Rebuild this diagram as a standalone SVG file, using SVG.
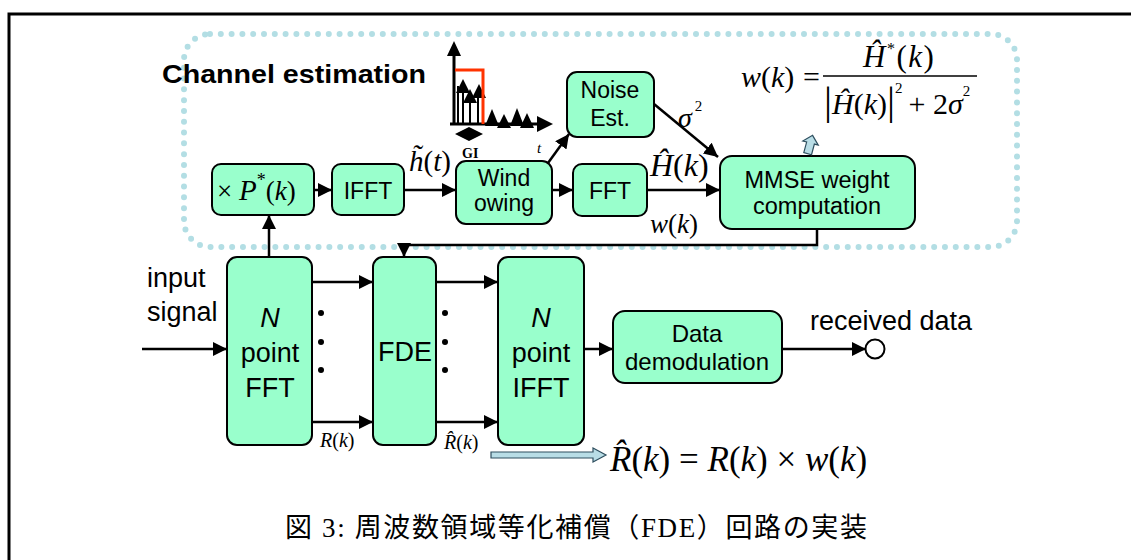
<svg xmlns="http://www.w3.org/2000/svg" width="1131" height="560" viewBox="0 0 1131 560">
<style>
.box{fill:#99FFCC;stroke:#000;stroke-width:2}
.t{font-family:"Liberation Sans",Arial,sans-serif;fill:#000;text-anchor:middle}
.m{font-family:"Liberation Serif","Times New Roman",serif;fill:#000}
.i{font-style:italic}
.c{stroke:#000;stroke-width:2.5;fill:none}
.blue{fill:#B8DDE6;stroke:#2F4F5F;stroke-width:1.2}
</style>
<defs>
<marker id="ah" markerUnits="userSpaceOnUse" markerWidth="16" markerHeight="14" refX="14" refY="7" orient="auto">
<path d="M0,0 L14,7 L0,14 Z" fill="#000"/>
</marker>
</defs>
<rect width="1131" height="560" fill="#fff"/>
<!-- frame -->
<path d="M9,560 V14 H1131" fill="none" stroke="#000" stroke-width="3"/>
<!-- channel estimation dotted region -->
<rect id="channel-estimation-region" x="184" y="34" width="833" height="213" rx="26" fill="none" stroke="#B3DEE4" stroke-width="6" stroke-linecap="round" stroke-dasharray="0 10.8"/>
<text x="162" y="83" font-family="Liberation Sans,Arial,sans-serif" font-weight="bold" font-size="25" textLength="264" lengthAdjust="spacingAndGlyphs">Channel estimation</text>

<!-- mini impulse response plot -->
<g id="impulse-plot">
<line x1="454" y1="124" x2="454" y2="54" stroke="#000" stroke-width="3"/>
<polygon points="454,41 447,56 461,56" fill="#000"/>
<line x1="450" y1="124" x2="538" y2="124" stroke="#000" stroke-width="3"/>
<polygon points="553,124 537,116 537,132" fill="#000"/>
<line x1="458" y1="124" x2="458" y2="86" stroke="#000" stroke-width="2"/>
<line x1="463" y1="124" x2="463" y2="82" stroke="#000" stroke-width="2"/>
<line x1="470" y1="124" x2="470" y2="92" stroke="#000" stroke-width="2"/>
<line x1="478" y1="124" x2="478" y2="88" stroke="#000" stroke-width="2"/>
<polygon points="463,79 456,93 470,93" fill="#000"/>
<polygon points="470,89 463,103 477,103" fill="#000"/>
<polygon points="479,84 472,98 486,98" fill="#000"/>
<polygon points="492,109 485,126 499,126" fill="#000"/>
<polygon points="504,114 497,128 511,128" fill="#000"/>
<polygon points="517,108 510,126 524,126" fill="#000"/>
<polygon points="527,113 520,128 534,128" fill="#000"/>
<polyline points="455,70 483,70 483,124" fill="none" stroke="#FF3300" stroke-width="3"/>
<polygon points="455,134 469,127 483,134 469,141" fill="#000"/>
<text x="462" y="158" class="m" font-weight="bold" font-size="14">GI</text>
<text x="537" y="153" class="m i" font-size="15">t</text>
</g>

<!-- nodes -->
<g id="mult-p">
<rect class="box" x="212" y="164" width="102" height="51" rx="9"/>
<text x="217" y="200" class="m" font-size="27">× <tspan class="i" font-size="29">P</tspan><tspan font-size="18" dy="-14">*</tspan><tspan dy="14">(</tspan><tspan class="i">k</tspan>)</text>
</g>
<g id="ifft-top">
<rect class="box" x="332" y="164" width="72" height="51" rx="9"/>
<text x="368" y="199" class="t" font-size="23">IFFT</text>
</g>
<g id="windowing">
<rect class="box" x="456" y="161" width="96" height="63" rx="10"/>
<text x="504" y="186" class="t" font-size="23">Wind</text>
<text x="504" y="211" class="t" font-size="23">owing</text>
</g>
<g id="fft-top">
<rect class="box" x="573" y="164" width="74" height="52" rx="9"/>
<text x="610" y="199" class="t" font-size="23">FFT</text>
</g>
<g id="noise-est">
<rect class="box" x="567" y="72" width="87" height="65" rx="10"/>
<text x="610" y="98" class="t" font-size="23">Noise</text>
<text x="610" y="126" class="t" font-size="23">Est.</text>
</g>
<g id="mmse">
<rect class="box" x="720" y="156" width="195" height="73" rx="12"/>
<text x="817" y="188" class="t" font-size="23.5">MMSE weight</text>
<text x="817" y="214" class="t" font-size="23.5">computation</text>
</g>
<g id="n-fft">
<rect class="box" x="227" y="257" width="85" height="188" rx="10"/>
<text x="270" y="327" class="t" font-size="27" font-style="italic">N</text>
<text x="270" y="362" class="t" font-size="27">point</text>
<text x="270" y="397" class="t" font-size="27">FFT</text>
</g>
<g id="fde">
<rect class="box" x="373" y="257" width="63" height="188" rx="10"/>
<text x="405" y="361" class="t" font-size="27">FDE</text>
</g>
<g id="n-ifft">
<rect class="box" x="498" y="257" width="86" height="188" rx="10"/>
<text x="541" y="327" class="t" font-size="27" font-style="italic">N</text>
<text x="541" y="362" class="t" font-size="27">point</text>
<text x="541" y="397" class="t" font-size="27">IFFT</text>
</g>
<g id="data-demod">
<rect class="box" x="613" y="311" width="169" height="72" rx="12"/>
<text x="697" y="342" class="t" font-size="24">Data</text>
<text x="697" y="370" class="t" font-size="24">demodulation</text>
</g>
<g id="output-terminal">
<circle cx="875" cy="349" r="9.5" fill="#fff" stroke="#000" stroke-width="2"/>
</g>

<!-- connectors -->
<g id="connectors">
<line class="c" x1="142" y1="349" x2="227" y2="349" marker-end="url(#ah)"/>
<line class="c" x1="312" y1="282" x2="373" y2="282" marker-end="url(#ah)"/>
<line class="c" x1="312" y1="422" x2="373" y2="422" marker-end="url(#ah)"/>
<line class="c" x1="436" y1="282" x2="498" y2="282" marker-end="url(#ah)"/>
<line class="c" x1="436" y1="422" x2="498" y2="422" marker-end="url(#ah)"/>
<line class="c" x1="584" y1="349" x2="613" y2="349" marker-end="url(#ah)"/>
<line class="c" x1="782" y1="349" x2="866" y2="349" marker-end="url(#ah)"/>
<line class="c" x1="269" y1="257" x2="269" y2="215" marker-end="url(#ah)"/>
<line class="c" x1="314" y1="190" x2="332" y2="190" marker-end="url(#ah)"/>
<line class="c" x1="404" y1="190" x2="456" y2="190" marker-end="url(#ah)"/>
<line class="c" x1="552" y1="190" x2="573" y2="190" marker-end="url(#ah)"/>
<line class="c" x1="647" y1="190" x2="720" y2="190" marker-end="url(#ah)"/>
<line class="c" x1="548" y1="163" x2="569" y2="134" marker-end="url(#ah)"/>
<line class="c" x1="654" y1="104" x2="718" y2="157" marker-end="url(#ah)"/>
<polyline class="c" stroke-width="2" points="817,229 817,245 404,245 404,257" marker-end="url(#ah)"/>
<!-- ellipsis dots -->
<circle cx="321" cy="313" r="3"/><circle cx="321" cy="342" r="3"/><circle cx="321" cy="370" r="3"/>
<circle cx="445" cy="313" r="3"/><circle cx="445" cy="342" r="3"/><circle cx="445" cy="370" r="3"/>
<!-- light blue block arrows -->
<polygon class="blue" transform="rotate(15 810 145)" points="810,135 818,143 814,143 814,154 806,154 806,143 802,143"/>
<polygon class="blue" points="491,452 593,452 593,448 606,455 593,462 593,458 491,458"/>
</g>

<!-- labels -->
<text x="147" y="287" font-family="Liberation Sans,Arial,sans-serif" font-size="27">input</text>
<text x="147" y="321" font-family="Liberation Sans,Arial,sans-serif" font-size="27">signal</text>
<text x="810" y="330" font-family="Liberation Sans,Arial,sans-serif" font-size="27">received data</text>

<g class="m" font-size="28">
<text x="409" y="171" class="m" font-size="29"><tspan class="i">h&#771;</tspan>(<tspan class="i">t</tspan>)</text>
<text x="650" y="176" class="m i" font-size="32">Ĥ<tspan font-style="normal">(</tspan>k<tspan font-style="normal">)</tspan></text>
<text x="650" y="233" class="m i" font-size="27">w<tspan font-style="normal">(</tspan>k<tspan font-style="normal">)</tspan></text>
<text x="678" y="127" class="m i">σ<tspan font-style="normal" font-size="15" dx="3" dy="-16">2</tspan></text>
<text x="320" y="447" class="m i" font-size="20">R<tspan font-style="normal">(</tspan>k<tspan font-style="normal">)</tspan></text>
<text x="444" y="449" class="m i" font-size="20">R&#770;<tspan font-style="normal">(</tspan>k<tspan font-style="normal">)</tspan></text>
</g>

<!-- MMSE weight formula -->
<g id="formula-w">
<text x="741" y="87" class="m" font-size="30"><tspan class="i">w</tspan>(<tspan class="i">k</tspan>)<tspan x="803">=</tspan></text>
<line x1="823" y1="76" x2="977" y2="76" stroke="#000" stroke-width="1.3"/>
<text x="863" y="67" class="m" font-size="31" letter-spacing="1.5"><tspan class="i">Ĥ</tspan><tspan font-size="16" dy="-13">*</tspan><tspan dy="13">(</tspan><tspan class="i">k</tspan>)</text>
<text x="824" y="114" class="m" font-size="30"><tspan font-size="40">|</tspan><tspan class="i">Ĥ</tspan>(<tspan class="i">k</tspan>)<tspan font-size="40">|</tspan><tspan font-size="15" dy="-21">2</tspan><tspan dy="21" dx="6">+ 2</tspan><tspan class="i">σ</tspan><tspan font-size="15" dy="-18">2</tspan></text>
</g>

<!-- bottom formula -->
<g id="formula-r">
<text x="610" y="471" class="m" font-size="35"><tspan class="i">R&#770;</tspan>(<tspan class="i">k</tspan>) = <tspan class="i">R</tspan>(<tspan class="i">k</tspan>) × <tspan class="i">w</tspan>(<tspan class="i">k</tspan>)</text>
</g>

<!-- caption -->
<text x="285" y="537" font-family="Liberation Serif,'Noto Sans CJK JP',serif" font-size="27" textLength="582" lengthAdjust="spacing">図 3: 周波数領域等化補償（FDE）回路の実装</text>
</svg>
